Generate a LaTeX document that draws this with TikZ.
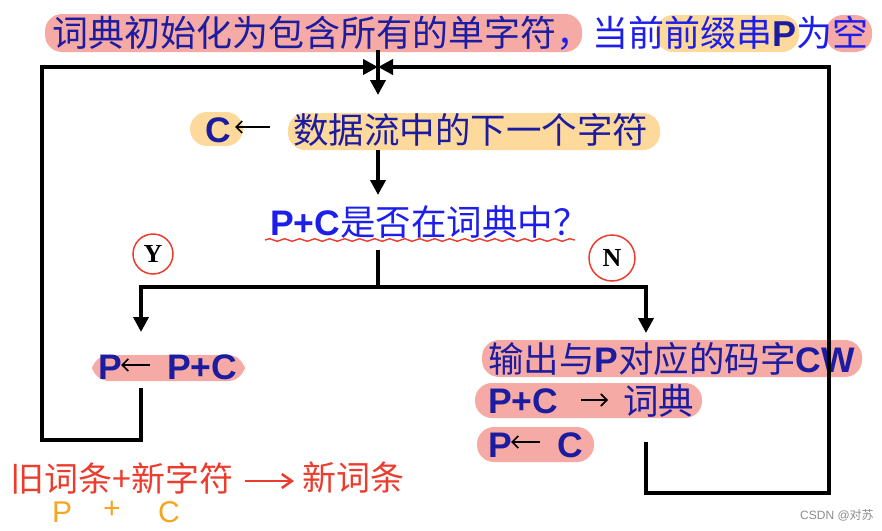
\documentclass[tikz,border=0pt]{standalone}
\usepackage{fontspec}
\setmainfont{Noto Sans CJK SC}
\newfontfamily\latf{Liberation Sans}
\newfontfamily\serf{Liberation Serif}
\usetikzlibrary{arrows.meta,decorations.pathmorphing}
\definecolor{navy}{RGB}{28,28,160}
\definecolor{bblue}{RGB}{30,30,235}
\definecolor{hlpink}{RGB}{246,170,165}
\definecolor{hlorange}{RGB}{253,217,155}
\definecolor{hred}{RGB}{235,60,45}
\definecolor{horange}{RGB}{245,165,30}
\newcommand\LB[1]{{\latf\bfseries #1}}
\tikzset{
  txt/.style={anchor=west,inner sep=0pt,font=\fontsize{35.5}{40}\selectfont,text=navy},
  hand/.style={anchor=west,inner sep=0pt,font=\fontsize{34}{40}\selectfont,text=hred},
  hl/.style={rounded corners=17pt},
  mainline/.style={line width=4pt,line join=miter},
  brline/.style={line width=3.5pt},
  tip/.style={-{Triangle[length=15pt,width=15pt]}},
  ia/.style={line width=1.7pt,-{Straight Barb[length=6pt,width=12pt]}},
  yn/.style={circle,draw=hred,line width=1.5pt,inner sep=0pt,font=\serf\bfseries\fontsize{26}{28}\selectfont},
  orng/.style={anchor=west,inner sep=0pt,text=horange,font=\latf\fontsize{30}{32}\selectfont},
}
\begin{document}
\begin{tikzpicture}[x=1pt,y=-1pt]
\useasboundingbox (0,0) rectangle (882,530);
% highlights
\fill[hlpink,hl] (45,14) rectangle (582,52);
\fill[hlorange,hl] (656,15) rectangle (799,52);
\fill[hlpink,hl] (826,15) rectangle (872,52);
\fill[hlorange,hl] (190,112) rectangle (243,146);
\fill[hlorange,hl] (288,113) rectangle (660,150);
\fill[hlpink,hl] (92,355) rectangle (245,381);
\fill[hlpink,hl] (482,340) rectangle (862,377);
\fill[hlpink,hl] (475,383) rectangle (702,418);
\fill[hlpink,hl] (477,427) rectangle (594,462);
% texts
\node[txt,font=\fontsize{36}{40}\selectfont] (title) at (52,33) {词典初始化为包含所有的单字符{\color{bblue}，当前前缀串}\LB{P}{\color{bblue}为空}};
\node[txt] (c) at (205,130) {\LB{C}};
\node[txt] (data) at (293,130) {数据流中的下一个字符};
\node[txt,text=bblue] (q) at (270,222) {\LB{P+C}是否在词典中？};
\node[yn,minimum size=40pt] (y) at (153,254) {Y};
\node[yn,minimum size=46pt] (n) at (612,258) {N};
\node[txt] (p1) at (98,367) {\LB{P}};
\node[txt] (p2) at (167,367) {\LB{P+C}};
\node[txt] (out) at (488,359) {输出与\LB{P}对应的码字\LB{CW}};
\node[txt] (a1) at (488,401) {\LB{P+C}};
\node[txt] (a2) at (623,401) {词典};
\node[txt] (n1) at (488,445) {\LB{P}};
\node[txt] (n2) at (557,445) {\LB{C}};
% inline arrows
\draw[ia] ([xshift=-23pt,yshift=3pt]data.west) -- ([xshift=4pt,yshift=3pt]c.east);
\draw[ia] ([xshift=-17pt,yshift=2pt]p2.west) -- ([xshift=-1pt,yshift=2pt]p1.east);
\draw[ia] ([xshift=23pt,yshift=1pt]a1.east) -- ([xshift=-15pt,yshift=1pt]a2.west);
\draw[ia] ([xshift=-17pt,yshift=3pt]n2.west) -- ([xshift=-1pt,yshift=3pt]n1.east);
% wavy underline
\draw[hred,line width=1.4pt,decorate,decoration={snake,amplitude=1.3pt,segment length=15pt}] (265,240) -- (575,240);
% coordinates
\coordinate (j) at (378,67);
\coordinate (jtop) at (378,50);
\coordinate (jbot) at (378,95);
% loops
\draw[mainline,tip] (141,388) -- (141,440) -- (42,440) -- (42,67) -- (j);
\draw[mainline,tip] (646,442) -- (646,493) -- (829,493) -- (829,67) -- (j);
\draw[mainline,tip] (jtop) -- (jbot);
\draw[mainline,tip] (378,150) -- (378,195);
% branch
\coordinate (b) at (378,287);
\draw[brline] (378,250) -- (b);
\draw[brline,tip] (b) -| (141,332);
\draw[brline,tip] (b) -| (646,333);
% handwritten annotation
\node[hand] (h1) at (10,478) {旧词条+新字符};
\node[hand] (h2) at (302,478) {新词条};
\draw[hred,line width=2.5pt,-{Straight Barb[length=10pt,width=14pt]}] (h1.east)++(12,3) -- ([xshift=-8pt,yshift=-3pt]h2.west);
\node[orng] (hp) at (52,512) {P};
\node[orng] (hplus) at (103,510) {+};
\node[orng] (hc) at (158,512) {C};
\node[anchor=west,inner sep=0pt,text=black!45,font=\latf\fontsize{12}{14}\selectfont] (csdn) at (800,515) {CSDN @{\rmfamily 对苏}};
\end{tikzpicture}
\end{document}
